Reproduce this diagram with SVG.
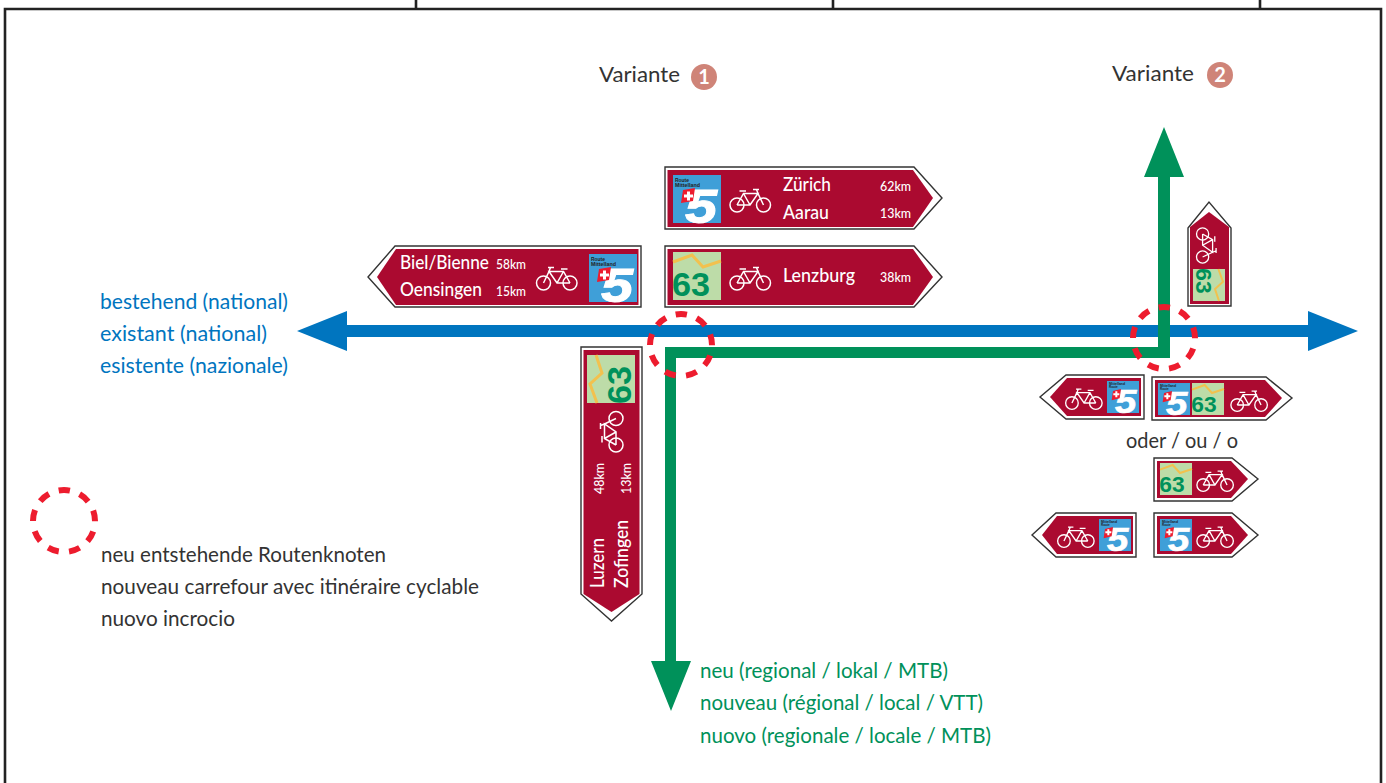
<svg xmlns="http://www.w3.org/2000/svg" xmlns:xlink="http://www.w3.org/1999/xlink" width="1386" height="783" viewBox="0 0 1386 783">
<style>
text{font-family:"Lato","Noto Sans","Liberation Sans",sans-serif}
.o{fill:#fff;stroke:#333;stroke-width:1.4}
.r{fill:#ab0a30}
.b{fill:none;stroke:#fff;stroke-width:1.5}
.s{fill:#fff;font-weight:500}
.t{font-size:19px}
.k{font-size:13px}
.lb{font-size:21px;fill:#0075bf}
.lg{font-size:21px;fill:#00915a}
.lk{font-size:21px;fill:#333}
.d{fill:none;stroke:#ed1c2e;stroke-width:6;stroke-dasharray:11.3 10.35;stroke-dashoffset:-10.6}
.n{fill:#cf8478}
.nt{fill:#fff;font-size:20px;font-weight:700;text-anchor:middle}
.a{font-family:"Liberation Sans",sans-serif;font-weight:700}
.f{fill:#fff;stroke:#fff;stroke-width:1;font-style:italic}
.m{fill:#222;font-size:5.500px}
</style>
<defs>
<g id="bike"><circle class="b" cx="8" cy="20" r="7"/><circle class="b" cx="34.500" cy="20" r="7"/><path class="b" d="M8 20L14.500 8.500H29L21 20H8M14.500 8.500L21 20M27.500 4.500L29 8.500L34.500 20M10.500 6H17M24 4.500H30"/></g>
<g id="b5"><rect width="48" height="48" fill="#3f9fd8"/><text class="a m" x="2" y="7" textLength="14" lengthAdjust="spacingAndGlyphs">Route</text><text class="a m" x="2" y="12" textLength="25" lengthAdjust="spacingAndGlyphs">Mittelland</text><text class="a f" x="12" y="47.500" font-size="49" textLength="32" lengthAdjust="spacingAndGlyphs">5</text><path d="M10 15L22 13L20 26L8 28Z" fill="#ed1c2e"/><path d="M14 16.500h3v3h3v3h-3v3h-3v-3h-3v-3h3z" fill="#fff"/></g>
<g id="s5"><rect width="48" height="48" fill="#3f9fd8"/><text class="a m" x="3" y="6" textLength="24" lengthAdjust="spacingAndGlyphs">Mittelland</text><text class="a m" x="3" y="11" textLength="13" lengthAdjust="spacingAndGlyphs">Route</text><text class="a f" x="12" y="47.500" font-size="49" textLength="32" lengthAdjust="spacingAndGlyphs">5</text><path d="M9 15L21 12L19 26L7 29Z" fill="#ed1c2e"/><path d="M12.500 15.500h3v3h3v3h-3v3h-3v-3h-3v-3h3z" fill="#fff"/></g>
<g id="b63"><rect width="48" height="48" fill="#bddca8"/><path d="M0 10L19 3L30 15L48 9" fill="none" stroke="#f2c14e" stroke-width="3"/><text class="a" x="-1" y="44" font-size="34" fill="#00915a" textLength="38" lengthAdjust="spacingAndGlyphs">63</text></g>
</defs>
<g id="frame" fill="none" stroke="#222" stroke-width="2.600"><path d="M5 783V9H1381V783"/><path d="M416 0V9M833 0V9M1260 0V9"/></g>
<g id="connectors">
<path d="M347 325H1308V311L1358 331L1308 351V337H347V351L297 331L347 311Z" fill="#0075bf"/>
<path d="M1158 177H1144L1164 127L1184 177H1170V358H676V661H691L671 711L651 661H665V347H1158Z" fill="#00915a"/>
</g>
<g id="node-variante-1"><text class="lk" x="599" y="82" textLength="81" lengthAdjust="spacingAndGlyphs">Variante</text><circle class="n" cx="704" cy="77" r="13"/><text class="nt" x="704" y="84">1</text></g>
<g id="node-variante-2"><text class="lk" x="1112" y="81" textLength="82" lengthAdjust="spacingAndGlyphs">Variante</text><circle class="n" cx="1220" cy="75" r="13"/><text class="nt" x="1220" y="82">2</text></g>
<g id="node-sign-zurich"><path class="o" d="M665 167H914L942 198L914 229H665Z"/><path class="r" d="M667.500 170H913L933 198L913 227H667.500Z"/><use xlink:href="#b5" x="673" y="175"/><use xlink:href="#bike" x="729" y="185"/><text class="s t" x="783" y="191" textLength="48" lengthAdjust="spacingAndGlyphs">Zürich</text><text class="s t" x="783" y="219" textLength="46" lengthAdjust="spacingAndGlyphs">Aarau</text><text class="s k" x="880" y="191" textLength="31" lengthAdjust="spacingAndGlyphs">62km</text><text class="s k" x="880" y="218" textLength="31" lengthAdjust="spacingAndGlyphs">13km</text></g>
<g id="node-sign-lenzburg"><path class="o" d="M665 246H914L942 277L914 307H665Z"/><path class="r" d="M667.500 249H913L933 277L913 305H667.500Z"/><use xlink:href="#b63" x="673" y="252"/><use xlink:href="#bike" x="729" y="263"/><text class="s t" x="783" y="282" textLength="72" lengthAdjust="spacingAndGlyphs">Lenzburg</text><text class="s k" x="880" y="282" textLength="31" lengthAdjust="spacingAndGlyphs">38km</text></g>
<g id="node-sign-biel"><path class="o" d="M641 246H395L368 277L395 307H641Z"/><path class="r" d="M638.500 249H396L377 277L396 305H638.500Z"/><use xlink:href="#b5" x="589" y="254"/><use xlink:href="#bike" transform="translate(578 263) scale(-1 1)"/><text class="s t" x="400" y="269" textLength="89" lengthAdjust="spacingAndGlyphs">Biel/Bienne</text><text class="s t" x="400" y="296" textLength="82" lengthAdjust="spacingAndGlyphs">Oensingen</text><text class="s k" x="496" y="269" textLength="30" lengthAdjust="spacingAndGlyphs">58km</text><text class="s k" x="496" y="296" textLength="30" lengthAdjust="spacingAndGlyphs">15km</text></g>
<g id="node-sign-luzern"><path class="o" d="M581 347H642V594L611.500 621L581 594Z"/><path class="r" d="M583.500 350H639.500V594L611.500 612L583.500 594Z"/><use xlink:href="#b63" transform="translate(587 403) rotate(-90)"/><use xlink:href="#bike" transform="translate(596 453) rotate(-90)"/><text class="s t" transform="translate(604 588) rotate(-90)" textLength="50" lengthAdjust="spacingAndGlyphs">Luzern</text><text class="s t" transform="translate(628 588) rotate(-90)" textLength="68" lengthAdjust="spacingAndGlyphs">Zofingen</text><text class="s k" transform="translate(604 494) rotate(-90)" textLength="31" lengthAdjust="spacingAndGlyphs">48km</text><text class="s k" transform="translate(631 494) rotate(-90)" textLength="31" lengthAdjust="spacingAndGlyphs">13km</text></g>
<g id="node-sign-up"><path class="o" d="M1188 228L1209 202L1231 228V306H1188Z"/><path class="r" d="M1190 227L1209 212L1229 227V304H1190Z"/><use xlink:href="#b63" transform="translate(1225 269) rotate(90) scale(.667)"/><use xlink:href="#bike" transform="translate(1220 227) rotate(90) scale(.87)"/></g>
<g id="node-sign-s1"><path class="o" d="M1144 375H1066L1040 397L1066 419H1144Z"/><path class="r" d="M1141 378H1067L1050 397L1067 416H1141Z"/><use xlink:href="#s5" transform="translate(1107 381) scale(.667)"/><use xlink:href="#bike" transform="translate(1103 385) scale(-.9 .9)"/></g>
<g id="node-sign-s2"><path class="o" d="M1152 377H1266L1292 398L1266 420H1152Z"/><path class="r" d="M1155 380H1265L1282 398L1265 417H1155Z"/><use xlink:href="#s5" transform="translate(1158 383) scale(.667)"/><use xlink:href="#b63" transform="translate(1192 383) scale(.667)"/><use xlink:href="#bike" transform="translate(1230 387) scale(.9)"/></g>
<g id="node-oder"><text class="lk" x="1126" y="448" textLength="112" lengthAdjust="spacingAndGlyphs">oder / ou / o</text></g>
<g id="node-sign-s3"><path class="o" d="M1154 458H1232L1258 479L1232 501H1154Z"/><path class="r" d="M1157 461H1231L1248 479L1231 498H1157Z"/><use xlink:href="#b63" transform="translate(1160 463) scale(.667)"/><use xlink:href="#bike" transform="translate(1196 467) scale(.9)"/></g>
<g id="node-sign-s4"><path class="o" d="M1136 513H1056L1032 535L1056 557H1136Z"/><path class="r" d="M1133 516H1057L1042 535L1057 554H1133Z"/><use xlink:href="#s5" transform="translate(1099 519) scale(.667)"/><use xlink:href="#bike" transform="translate(1095 523) scale(-.9 .9)"/></g>
<g id="node-sign-s5"><path class="o" d="M1154 513H1232L1258 535L1232 557H1154Z"/><path class="r" d="M1157 516H1231L1248 535L1231 554H1157Z"/><use xlink:href="#s5" transform="translate(1160 519) scale(.667)"/><use xlink:href="#bike" transform="translate(1196 523) scale(.9)"/></g>
<g id="node-crossing-1"><circle class="d" cx="681" cy="345" r="31"/></g>
<g id="node-crossing-2"><circle class="d" cx="1164" cy="338" r="31"/></g>
<g id="node-legend-blue"><text class="lb" x="100" y="309" textLength="188" lengthAdjust="spacingAndGlyphs">bestehend (national)</text><text class="lb" x="100" y="341" textLength="167" lengthAdjust="spacingAndGlyphs">existant (national)</text><text class="lb" x="100" y="373" textLength="188" lengthAdjust="spacingAndGlyphs">esistente (nazionale)</text></g>
<g id="node-legend-red"><circle class="d" cx="64" cy="521" r="31"/><text class="lk" x="101" y="562" textLength="285" lengthAdjust="spacingAndGlyphs">neu entstehende Routenknoten</text><text class="lk" x="101" y="594" textLength="378" lengthAdjust="spacingAndGlyphs">nouveau carrefour avec itinéraire cyclable</text><text class="lk" x="101" y="626" textLength="134" lengthAdjust="spacingAndGlyphs">nuovo incrocio</text></g>
<g id="node-legend-green"><text class="lg" x="700" y="678" textLength="248" lengthAdjust="spacingAndGlyphs">neu (regional / lokal / MTB)</text><text class="lg" x="700" y="710" textLength="283" lengthAdjust="spacingAndGlyphs">nouveau (régional / local / VTT)</text><text class="lg" x="700" y="743" textLength="291" lengthAdjust="spacingAndGlyphs">nuovo (regionale / locale / MTB)</text></g>
</svg>
